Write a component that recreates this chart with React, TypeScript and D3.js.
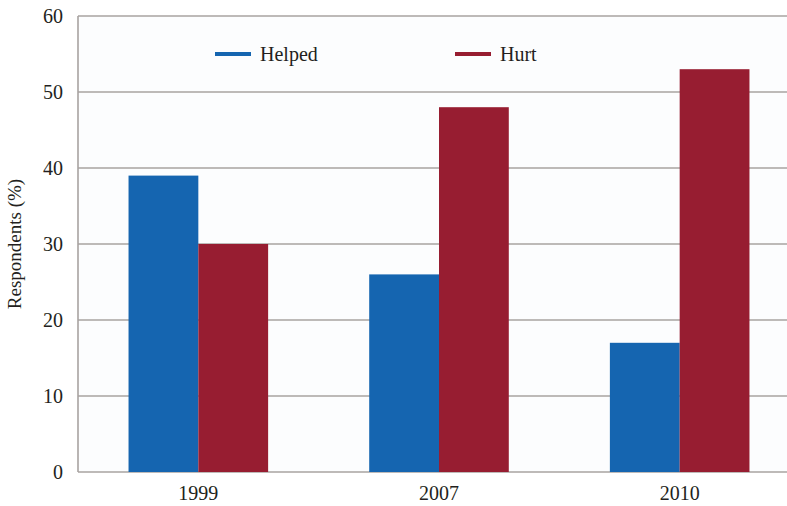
import React from "react";
import * as d3 from "d3";

const categories = ["1999", "2007", "2010"];
const seriesNames = ["Helped", "Hurt"];
const helped = [39, 26, 17];
const hurt = [30, 48, 53];
const yTicks = [0, 10, 20, 30, 40, 50, 60];

const colors = ["#1565b0", "#971d31"];

export default function App() {
  const W = 787, H = 506;
  const left = 78, top = 16, bottom = 472, right = 800;
  const x = d3.scaleBand<string>().domain(categories).range([left, right]).paddingInner(0.42).paddingOuter(0.21);
  const x1 = d3.scaleBand<string>().domain(seriesNames).range([0, x.bandwidth()]);
  const y = d3.scaleLinear().domain([0, 60]).range([bottom, top]);
  const series = [helped, hurt];
  const font = "'Liberation Serif', 'DejaVu Serif', serif";
  const ts = { fontFamily: font, fill: "#231f20" } as React.CSSProperties;
  return (
    <svg width={W} height={H} style={{ position: "absolute", left: 0, top: 0, background: "#fff" }}>
      <rect x={left} y={top} width={W - left} height={bottom - top} fill="#fcfdfe" />
      {yTicks.map((t) => (
        <g key={t}>
          <line x1={left} x2={W} y1={y(t)} y2={y(t)} stroke="#a8a3a1" strokeWidth={1.6} />
          <text x={63} y={y(t)} dy="0.35em" textAnchor="end" fontSize={20} style={ts}>{t}</text>
        </g>
      ))}
      <line x1={left} x2={left} y1={top} y2={bottom} stroke="#a8a3a1" strokeWidth={1.6} />
      {categories.map((c, i) => (
        <g key={c}>
          {series.map((s, j) => (
            <rect key={j} x={(x(c) as number) + (x1(seriesNames[j]) as number)} y={y(s[i])} width={x1.bandwidth()} height={y(0) - y(s[i])} fill={colors[j]} />
          ))}
          <text x={(x(c) as number) + x.bandwidth() / 2} y={500} textAnchor="middle" fontSize={20} style={ts}>{c}</text>
        </g>
      ))}
      <text transform="translate(21,244) rotate(-90)" textAnchor="middle" fontSize={19} style={ts}>Respondents (%)</text>
      {seriesNames.map((n, j) => {
        const lx = j === 0 ? 215 : 455;
        return (
          <g key={n}>
            <line x1={lx} x2={lx + 36} y1={54} y2={54} stroke={colors[j]} strokeWidth={4} />
            <text x={lx + 45} y={54} dy="0.35em" fontSize={20} style={ts}>{n}</text>
          </g>
        );
      })}
    </svg>
  );
}
